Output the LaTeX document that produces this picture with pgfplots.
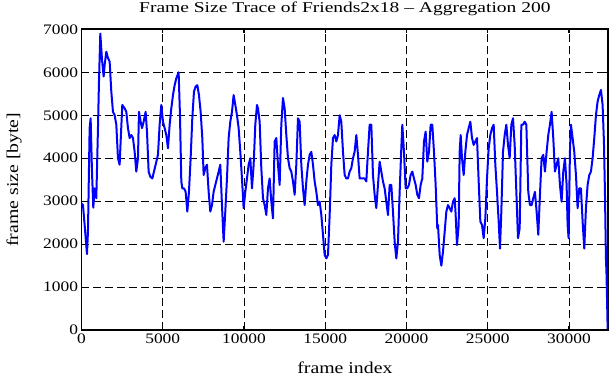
\documentclass[border=0pt]{standalone}
\usepackage{fontspec}
\setmainfont{Liberation Serif}[FakeStretch=1.2]
\newfontfamily\titlefont{Liberation Serif}[FakeStretch=1.3,Ligatures=TeX]
\usepackage{pgfplots}
\pgfplotsset{compat=1.18}
\begin{document}
\begin{tikzpicture}
\begin{axis}[name=ax,
  scale only axis, width=527bp, height=301bp,
  xmin=0, xmax=32420, ymin=0, ymax=7000,
  xtick={0,5000,10000,15000,20000,25000,30000},
  ytick={0,1000,...,7000},
  scaled x ticks=false, scaled y ticks=false,
  /pgf/number format/assume math mode=true,
  xticklabel={\pgfmathprintnumber[fixed,1000 sep={}]{\tick}},
  yticklabel={\pgfmathprintnumber[fixed,1000 sep={}]{\tick}},
  font=\fontsize{16.5bp}{19bp}\selectfont,
  tick label style={font=\fontsize{14.5bp}{16bp}\selectfont},
  xmajorgrids, ymajorgrids,
  major grid style={black, line width=0.9bp, dash pattern=on 8bp off 4bp},
  axis line style={black, line width=1.8bp},
  tick style={black, line width=1.2bp},
  major tick length=4bp,
  tick pos=both, tick align=inside,
  title={Frame Size Trace of Friends2x18 \textendash{} Aggregation 200},
  every axis title shift=0pt,
  title style={at={(axis description cs:0.5,1)}, anchor=base, yshift=16.8bp, inner sep=0pt, font=\titlefont\fontsize{15bp}{17bp}\selectfont},
  xlabel={frame index},
  ylabel={frame size [byte]},
  x label style={at={(axis description cs:0.5,-0.125)}, anchor=center},
  y label style={at={(axis description cs:-0.128,0.5)}, anchor=center},
]
\addplot[color={rgb,255:red,0;green,0;blue,255}, line width=2bp, line join=round] coordinates {
(0,2950)(92,2910)(195,2450)(339,1770)(400,2300)(502,4700)(564,4930)(646,3700)(728,2850)(810,3300)(913,3070)
(1015,4700)(1077,5780)(1159,6900)(1262,6300)(1364,5900)(1426,6170)(1528,6480)(1631,6330)(1733,6250)(1836,5550)
(1938,5080)(2041,5000)(2144,4780)(2246,4000)(2349,3850)(2410,4390)(2513,5240)(2656,5160)(2759,5080)(2861,4700)
(2964,4470)(3067,4540)(3169,4470)(3272,4150)(3374,3690)(3477,4000)(3538,5080)(3641,4850)(3723,4700)(3826,4850)
(3949,5080)(4031,4620)(4133,3690)(4236,3570)(4359,3530)(4462,3690)(4564,3850)(4708,4080)(4810,4780)(4913,5240)
(5015,4850)(5118,4700)(5221,4540)
(5323,4230)(5426,4780)(5528,5160)(5631,5470)(5733,5700)(5836,5860)(5979,6000)(6062,5000)(6144,3460)(6205,3300)
(6308,3300)(6410,3220)(6513,2760)(6615,3220)(6718,4000)(6820,4930)(6923,5550)(7026,5670)(7128,5700)(7231,5470)
(7333,5080)(7436,4470)(7518,3610)(7620,3770)(7723,3850)(7826,3220)(7928,2760)(8031,2910)(8133,3220)(8236,3380)
(8339,3530)(8441,3690)(8544,3850)(8646,2910)(8749,2060)(8851,2760)(8954,3530)(9056,4470)(9159,4850)(9262,5080)
(9364,5470)(9467,5240)(9569,5000)(9672,4700)(9774,4150)(9877,3530)(9979,2840)(10082,3220)(10185,3530)(10287,3850)
(10390,4000)(10492,3300)(10595,3850)(10697,4780)(10800,5240)
(10862,5160)(10965,4850)(11067,3770)(11170,3070)(11272,2910)(11375,2680)(11477,3300)(11580,3530)(11682,2990)(11785,2600)
(11888,4390)(11990,4470)(12093,3850)(12195,3380)(12298,4780)(12400,5400)(12503,5160)(12606,4540)(12708,4000)(12811,3770)
(12913,3690)(13016,3460)(13118,3150)(13221,3850)(13324,4930)(13426,4850)(13529,3850)(13631,3300)(13734,2910)(13836,3460)
(13939,3850)(14042,4080)(14144,4150)(14247,3850)(14349,3460)(14452,3220)(14554,2910)(14657,2990)(14760,2680)(14862,2220)
(14965,1750)(15067,1670)(15170,1750)(15273,2680)(15375,3850)(15478,4470)(15580,4540)(15683,4390)(15785,4540)(15888,5000)
(15990,4850)(16093,4150)(16196,3610)(16298,3530)
(16400,3530)(16503,3690)(16605,3770)(16708,4000)(16810,4150)(16913,4540)(17015,4080)(17118,3530)(17221,3530)(17323,3530)
(17426,3530)(17528,3460)(17631,4150)(17733,4780)(17836,4780)(17938,3610)(18041,3150)(18144,2840)(18246,3380)(18349,3920)
(18451,3690)(18554,3460)(18656,3300)(18759,2990)(18862,2680)(18964,3380)(19067,3380)(19169,2760)(19272,2060)(19374,1670)
(19477,2060)(19580,3220)(19682,4230)(19744,4780)(19846,4150)(19949,3300)(20051,3300)(20154,3380)(20256,3610)(20359,3690)
(20462,3530)(20564,3380)(20667,3150)(20769,3070)(20872,3380)(20974,3530)(21077,4390)(21180,4620)(21282,3920)(21385,4150)
(21487,4780)(21590,4780)(21692,4150)(21795,3380)(21897,2360)
(21940,2450)(22043,1750)(22145,1500)(22248,1830)(22350,2290)(22453,2760)(22555,2910)(22658,2840)(22761,2760)(22863,2990)
(22966,3070)(23027,2680)(23109,1980)(23212,2450)(23273,4150)(23335,4540)(23417,4000)(23520,3610)(23622,4150)(23725,4540)
(23827,4700)(23930,4850)(24032,4470)(24135,4310)(24237,4390)(24340,4470)(24443,3460)(24545,2530)(24648,2450)(24750,2140)
(24853,2600)(24955,3530)(25058,4230)(25160,4540)(25263,4700)(25366,4780)(25468,3850)(25571,3220)(25673,2530)(25755,1900)
(25837,2760)(25940,4150)(26043,4540)(26145,4780)(26248,4310)(26350,4000)(26453,4780)(26555,4930)(26658,4310)(26761,3220)
(26863,2140)(26966,2370)(27068,4780)(27171,4780)(27273,4850)(27376,4780)
(27495,3220)(27598,2910)(27700,2910)(27803,3070)(27905,3220)(28008,2760)(28111,2220)(28213,3150)(28316,4000)(28418,4080)
(28521,3690)(28623,4150)(28726,4540)(28828,4780)(28931,5080)(29034,4470)(29136,3690)(29239,3850)(29341,4000)(29444,3380)
(29546,2990)(29649,3690)(29752,4000)(29854,3380)(29916,2450)(29977,2140)(30059,4150)(30121,4780)(30223,4470)(30326,4150)
(30429,3610)(30531,2840)(30634,3300)(30736,3300)(30839,2530)(30941,1900)(31044,2840)(31146,3380)(31249,3610)(31352,3690)
(31454,4000)(31557,4470)(31659,5000)(31762,5320)(31864,5470)(31967,5590)(32069,5240)(32151,4390)(32213,3220)(32274,1670)
(32310,1300)(32380,30)
};
\end{axis}
\pgfresetboundingbox
\path ([shift={(-81.5bp,-49.7bp)}]ax.south west) rectangle ([shift={(2.7bp,29.3bp)}]ax.north east);
\end{tikzpicture}
\end{document}
